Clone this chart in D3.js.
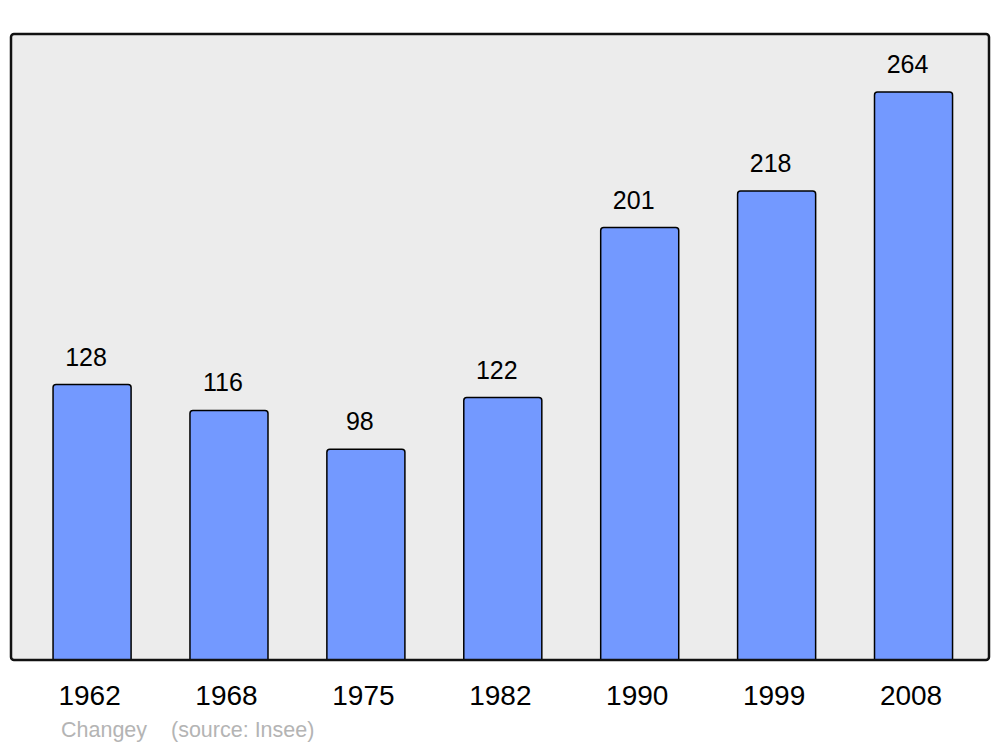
<!DOCTYPE html>
<html>
<head>
<meta charset="utf-8">
<script src="https://cdn.jsdelivr.net/npm/d3@7"></script>
<style>
  body { margin: 0; background: #fff; }
  text { font-family: "Liberation Sans", Arial, sans-serif; }
</style>
</head>
<body>
<div class="chart"></div>
<script>
// population data
var years = ["1962", "1968", "1975", "1982", "1990", "1999", "2008"];
var population = [128, 116, 98, 122, 201, 218, 264];
var townName = "Changey";
var sourceNote = "(source: Insee)";

var svgWidth = 1000;
var svgHeight = 747;

var panel = { left: 11, top: 34, right: 989, bottom: 660 };

var svg = d3.select(".chart")
  .append("svg")
  .attr("width", svgWidth)
  .attr("height", svgHeight);

// background panel
svg.append("rect")
  .attr("x", panel.left)
  .attr("y", panel.top)
  .attr("width", panel.right - panel.left)
  .attr("height", panel.bottom - panel.top)
  .attr("rx", 3)
  .attr("fill", "#ececec")
  .attr("stroke", "none");

var data = years.map(function(y, i) {
  return { year: y, value: population[i] };
});

// scales
var xScale = d3.scaleBand()
  .domain(years)
  .range([24.3, 981.3])
  .paddingInner(0.43)
  .paddingOuter(0.21);

var yScale = d3.scaleLinear()
  .domain([0, 264])
  .range([panel.bottom, 92]);

// bars
svg.append("g")
  .selectAll("path")
  .data(data)
  .enter()
  .append("path")
  .attr("d", function(d) {
    var x0 = xScale(d.year), x1 = x0 + xScale.bandwidth();
    var y0 = yScale(d.value), y1 = yScale(0), r = 3;
    return "M" + x0 + "," + y1 +
      "V" + (y0 + r) +
      "Q" + x0 + "," + y0 + " " + (x0 + r) + "," + y0 +
      "H" + (x1 - r) +
      "Q" + x1 + "," + y0 + " " + x1 + "," + (y0 + r) +
      "V" + y1;
  })
  .attr("fill", "#7399ff")
  .attr("stroke", "#000")
  .attr("stroke-width", 1.5);

// value labels
svg.append("g")
  .selectAll("text")
  .data(data)
  .enter()
  .append("text")
  .attr("x", function(d) { return xScale(d.year) + xScale.bandwidth() / 2 - 6; })
  .attr("y", function(d) { return yScale(d.value) - 19; })
  .attr("text-anchor", "middle")
  .attr("font-size", "25px")
  .attr("fill", "#000")
  .text(function(d) { return d.value; });

// panel border drawn over bar bottoms
svg.append("rect")
  .attr("x", panel.left)
  .attr("y", panel.top)
  .attr("width", panel.right - panel.left)
  .attr("height", panel.bottom - panel.top)
  .attr("rx", 3)
  .attr("fill", "none")
  .attr("stroke", "#111")
  .attr("stroke-width", 2.5);

// year labels
var bottomAxis = d3.axisBottom(xScale).tickSize(0).tickPadding(0);
var axisG = svg.append("g")
  .attr("transform", "translate(-2.5, 0)")
  .call(bottomAxis);
axisG.select(".domain").remove();
axisG.selectAll("text")
  .attr("y", 705)
  .attr("dy", null)
  .attr("font-size", "28px")
  .attr("font-family", "Liberation Sans, Arial, sans-serif")
  .attr("fill", "#000");

// footer
svg.append("text")
  .attr("x", 61)
  .attr("y", 737)
  .attr("font-size", "21.5px")
  .attr("fill", "#b4b4b4")
  .text(townName);

svg.append("text")
  .attr("x", 171)
  .attr("y", 737)
  .attr("font-size", "21.5px")
  .attr("fill", "#b4b4b4")
  .text(sourceNote);
</script>
</body>
</html>
